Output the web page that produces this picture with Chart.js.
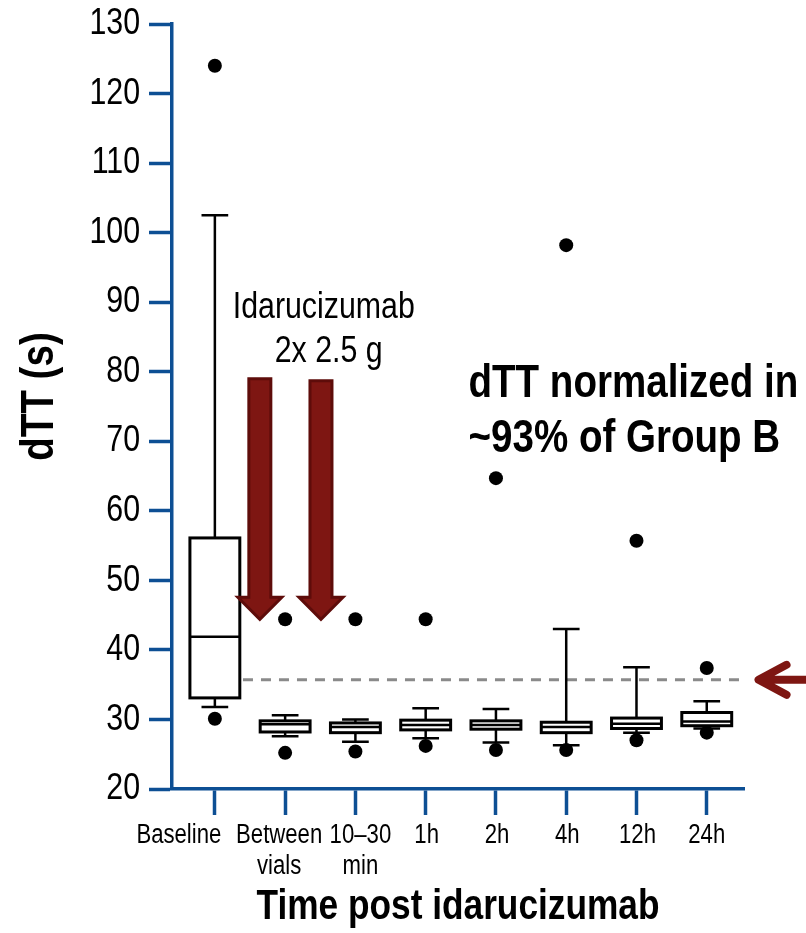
<!DOCTYPE html>
<html>
<head>
<meta charset="utf-8">
<script src="https://cdn.jsdelivr.net/npm/chart.js@4.4.1/dist/chart.umd.min.js"></script>
<style>
  html, body { margin: 0; padding: 0; background: #fff; }
  #wrap { width: 806px; height: 933px; }
</style>
</head>
<body>
<div id="wrap"><canvas id="chart"></canvas></div>
<script>
// time points after idarucizumab
const categories = ['Baseline', ['Between', 'vials'], ['10\u201330', 'min'], '1h', '2h', '4h', '12h', '24h'];

// dTT (s) box plot summary per time point
const whiskerLow  = [31.8, 27.6, 26.8, 27.3, 26.7, 26.3, 28.1, 28.7];
const q1          = [33.1, 28.2, 28.1, 28.5, 28.6, 28.1, 28.7, 29.1];
const median      = [41.9, 29.3, 28.9, 29.2, 29.2, 28.9, 29.4, 29.7];
const q3          = [56.1, 29.8, 29.5, 29.9, 29.8, 29.6, 30.2, 31.0];
const whiskerHigh = [102.5, 30.6, 30.0, 31.6, 31.5, 43.0, 37.5, 32.6];
const outlierHigh = [124.0, 44.4, 44.4, 44.4, 64.7, 98.2, 55.7, 37.4];
const outlierLow  = [30.1, 25.2, 25.4, 26.2, 25.6, 25.6, 27.0, 28.1];

// upper limit of normal dTT
const normalLimit = 35.7;

const yTicks = [20, 30, 40, 50, 60, 70, 80, 90, 100, 110, 120, 130];

const FONT = '"Liberation Sans", Arial, sans-serif';
const NARROW = 0.82; // squeeze Liberation Sans towards Arial Narrow
const AXIS_BLUE = '#0d4f94';
const ARROW_RED = '#7e1612';
const ARROW_DARK = '#5e0c0a';
// crowded first labels are nudged off their ticks
const labelShift = [-36, -6, 5, 1, 1, 1, 1, 0];

const outlierPoints = [];
categories.forEach((c, i) => {
  outlierPoints.push({x: i, y: outlierHigh[i]});
  outlierPoints.push({x: i, y: outlierLow[i]});
});

// draw text squeezed horizontally
function narrowText(ctx, text, x, y, font, align, baseline, rotate) {
  ctx.save();
  ctx.translate(x, y);
  if (rotate) ctx.rotate(rotate);
  ctx.scale(NARROW, 1);
  ctx.font = font;
  ctx.textAlign = align;
  ctx.textBaseline = baseline;
  ctx.fillStyle = '#000';
  ctx.fillText(text, 0, 0);
  ctx.restore();
}

const boxPlot = {
  id: 'boxPlot',
  beforeDatasetsDraw(chart) {
    const {ctx, scales: {x, y}} = chart;
    ctx.save();

    // normal limit dashed line
    ctx.strokeStyle = '#8a8a8a';
    ctx.lineWidth = 3;
    ctx.setLineDash([10, 8]);
    ctx.beginPath();
    ctx.moveTo(x.getPixelForValue(0.4), y.getPixelForValue(normalLimit));
    ctx.lineTo(x.getPixelForValue(7.53), y.getPixelForValue(normalLimit));
    ctx.stroke();
    ctx.setLineDash([]);

    ctx.strokeStyle = '#000';
    categories.forEach((c, i) => {
      const cx = x.getPixelForValue(i);
      const bl = x.getPixelForValue(i - 0.355);
      const br = x.getPixelForValue(i + 0.355);
      const cl = x.getPixelForValue(i - 0.19);
      const cr = x.getPixelForValue(i + 0.19);
      const yLo = y.getPixelForValue(whiskerLow[i]);
      const yQ1 = y.getPixelForValue(q1[i]);
      const yMed = y.getPixelForValue(median[i]);
      const yQ3 = y.getPixelForValue(q3[i]);
      const yHi = y.getPixelForValue(whiskerHigh[i]);

      ctx.lineWidth = 2.5;
      ctx.beginPath();
      ctx.moveTo(cx, yQ3); ctx.lineTo(cx, yHi);
      ctx.moveTo(cl, yHi); ctx.lineTo(cr, yHi);
      ctx.moveTo(cx, yQ1); ctx.lineTo(cx, yLo);
      ctx.moveTo(cl, yLo); ctx.lineTo(cr, yLo);
      ctx.stroke();

      ctx.fillStyle = '#fff';
      ctx.fillRect(bl, yQ3, br - bl, yQ1 - yQ3);
      ctx.lineWidth = 3;
      ctx.strokeRect(bl, yQ3, br - bl, yQ1 - yQ3);
      ctx.lineWidth = 2.5;
      ctx.beginPath();
      ctx.moveTo(bl, yMed); ctx.lineTo(br, yMed);
      ctx.stroke();
    });
    ctx.restore();
  }
};

// axis labels and titles, placed from the scales
const axisText = {
  id: 'axisText',
  afterDraw(chart) {
    const {ctx, chartArea, scales: {x, y}} = chart;
    yTicks.forEach(v => {
      narrowText(ctx, String(v), y.right - 32, y.getPixelForValue(v), '37px ' + FONT, 'right', 'middle');
    });
    categories.forEach((c, i) => {
      const lines = Array.isArray(c) ? c : [c];
      lines.forEach((t, k) => {
        narrowText(ctx, t, x.getPixelForValue(i) + labelShift[i], x.top + 47 + k * 31, '27px ' + FONT, 'center', 'middle');
      });
    });
    narrowText(ctx, 'Time post idarucizumab', (chartArea.left + chartArea.right) / 2, x.top + 118,
      'bold 43px ' + FONT, 'center', 'middle');
    narrowText(ctx, 'dTT (s)', 40, (chartArea.top + chartArea.bottom) / 2 - 10,
      'bold 47px ' + FONT, 'center', 'middle', -Math.PI / 2);
  }
};

// dose arrows and text notes, placed in data units
const doseArrows = [{x: 0.64, top: 79.0, tip: 44.4}, {x: 1.51, top: 78.7, tip: 44.4}];

const notes = {
  id: 'notes',
  afterDraw(chart) {
    const {ctx, scales: {x, y}} = chart;
    ctx.save();

    doseArrows.forEach(a => {
      const cx = x.getPixelForValue(a.x);
      const top = y.getPixelForValue(a.top);
      const tip = y.getPixelForValue(a.tip);
      const headBase = tip - 22;
      ctx.beginPath();
      ctx.moveTo(cx - 11, top);
      ctx.lineTo(cx + 11, top);
      ctx.lineTo(cx + 11, headBase);
      ctx.lineTo(cx + 22, headBase);
      ctx.lineTo(cx, tip);
      ctx.lineTo(cx - 22, headBase);
      ctx.lineTo(cx - 11, headBase);
      ctx.closePath();
      ctx.fillStyle = ARROW_RED;
      ctx.fill();
      ctx.strokeStyle = ARROW_DARK;
      ctx.lineWidth = 3;
      ctx.lineJoin = 'miter';
      ctx.stroke();
    });

    // normal limit pointer on the right
    const ry = y.getPixelForValue(normalLimit);
    const tipX = x.getPixelForValue(7.68);
    ctx.strokeStyle = ARROW_RED;
    ctx.lineWidth = 8;
    ctx.lineCap = 'round';
    ctx.lineJoin = 'round';
    ctx.beginPath();
    ctx.moveTo(tipX + 32, ry - 15);
    ctx.lineTo(tipX + 4, ry);
    ctx.lineTo(tipX + 32, ry + 15);
    ctx.moveTo(tipX + 6, ry);
    ctx.lineTo(806, ry);
    ctx.stroke();
    ctx.restore();

    narrowText(ctx, 'Idarucizumab', x.getPixelForValue(1.55), y.getPixelForValue(87.7), '37px ' + FONT, 'center', 'alphabetic');
    narrowText(ctx, '2x 2.5 g', x.getPixelForValue(1.62), y.getPixelForValue(81.4), '37px ' + FONT, 'center', 'alphabetic');
    narrowText(ctx, 'dTT normalized in', x.getPixelForValue(3.61), y.getPixelForValue(76.4), 'bold 47px ' + FONT, 'left', 'alphabetic');
    narrowText(ctx, '~93% of Group B', x.getPixelForValue(3.61), y.getPixelForValue(68.5), 'bold 47px ' + FONT, 'left', 'alphabetic');
  }
};

new Chart(document.getElementById('chart'), {
  type: 'scatter',
  data: {
    datasets: [{
      label: 'Outliers',
      data: outlierPoints,
      pointRadius: 7,
      pointHoverRadius: 7,
      pointBackgroundColor: '#000',
      pointBorderWidth: 0
    }]
  },
  options: {
    responsive: true,
    maintainAspectRatio: false,
    animation: false,
    events: [],
    layout: { padding: { top: 24, right: 62, bottom: 0, left: 0 } },
    plugins: { legend: { display: false }, tooltip: { enabled: false } },
    scales: {
      x: {
        type: 'linear',
        min: -0.61,
        max: 7.53,
        afterBuildTicks: s => { s.ticks = categories.map((c, i) => ({value: i})); },
        afterFit: s => { s.height = 144; },
        border: { color: AXIS_BLUE, width: 3.5 },
        grid: { drawOnChartArea: false, tickLength: 26, tickColor: AXIS_BLUE, tickWidth: 3.5 },
        ticks: { display: false }
      },
      y: {
        min: 20,
        max: 130,
        afterBuildTicks: s => { s.ticks = yTicks.map(v => ({value: v})); },
        afterFit: s => { s.width = 172; },
        border: { color: AXIS_BLUE, width: 3.5 },
        grid: { drawOnChartArea: false, tickLength: 23, tickColor: AXIS_BLUE, tickWidth: 3.5 },
        ticks: { display: false }
      }
    }
  },
  plugins: [boxPlot, axisText, notes]
});
</script>
</body>
</html>
